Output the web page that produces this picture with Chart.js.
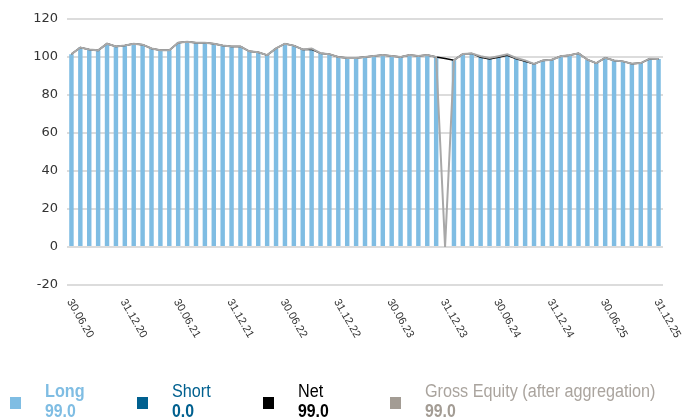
<!DOCTYPE html>
<html>
<head>
<meta charset="utf-8">
<script src="https://cdn.jsdelivr.net/npm/chart.js@4.4.1/dist/chart.umd.min.js"></script>
<style>
  html, body { margin: 0; padding: 0; background: #fff; overflow: hidden; }
  #wrap { position: relative; width: 685px; height: 418px; }
  #legend { position: absolute; left: 0; top: 380px; width: 685px; height: 38px; font-family: "Liberation Sans", sans-serif; }
  .item { position: absolute; top: 0; }
  .sq { position: absolute; top: 17px; width: 11px; height: 12px; }
  .name { position: absolute; left: 35px; top: 1px; font-size: 18px; white-space: nowrap; line-height: 20px; transform: scaleX(0.9); transform-origin: left top; }
  .val { position: absolute; left: 35px; top: 21px; font-size: 18px; font-weight: bold; line-height: 20px; transform: scaleX(0.88); transform-origin: left top; }
</style>
</head>
<body>
<div id="wrap">
  <canvas id="grafico" width="685" height="418"></canvas>
  <div id="legend">
    <div class="item" style="left:10px"><div class="sq" style="background:#7fbde3"></div><div class="name" style="color:#7fbde3;font-weight:bold">Long</div><div class="val" style="color:#7fbde3">99.0</div></div>
    <div class="item" style="left:137px"><div class="sq" style="background:#00608f"></div><div class="name" style="color:#00608f">Short</div><div class="val" style="color:#00608f">0.0</div></div>
    <div class="item" style="left:263px"><div class="sq" style="background:#000"></div><div class="name" style="color:#000">Net</div><div class="val" style="color:#000">99.0</div></div>
    <div class="item" style="left:390px"><div class="sq" style="background:#a39c94"></div><div class="name" style="color:#aaa49e">Gross Equity (after aggregation)</div><div class="val" style="color:#a39c94">99.0</div></div>
  </div>
</div>
<script>
var datas = [
    "30.06.20", "31.07.20", "31.08.20", "30.09.20", "31.10.20", "30.11.20", "31.12.20",
    "31.01.21", "28.02.21", "31.03.21", "30.04.21", "31.05.21", "30.06.21", "31.07.21", "31.08.21", "30.09.21", "31.10.21", "30.11.21", "31.12.21",
    "31.01.22", "28.02.22", "31.03.22", "30.04.22", "31.05.22", "30.06.22", "31.07.22", "31.08.22", "30.09.22", "31.10.22", "30.11.22", "31.12.22",
    "31.01.23", "28.02.23", "31.03.23", "30.04.23", "31.05.23", "30.06.23", "31.07.23", "31.08.23", "30.09.23", "31.10.23", "30.11.23", "31.12.23",
    "31.01.24", "29.02.24", "31.03.24", "30.04.24", "31.05.24", "30.06.24", "31.07.24", "31.08.24", "30.09.24", "31.10.24", "30.11.24", "31.12.24",
    "31.01.25", "28.02.25", "31.03.25", "30.04.25", "31.05.25", "30.06.25", "31.07.25", "31.08.25", "30.09.25", "31.10.25", "30.11.25", "31.12.25"
];

var rotulosX = ["30.06.20", "31.12.20", "30.06.21", "31.12.21", "30.06.22", "31.12.22", "30.06.23", "31.12.23", "30.06.24", "31.12.24", "30.06.25", "31.12.25"];

var longV = [
    101.5, 105, 104, 103.5, 107, 105.5, 106, 107, 106.5, 104.5, 103.5, 103.5,
    107.5, 108, 107.5, 107.5, 107, 106, 105.5, 105.5, 103, 102.5, 101, 104.5,
    107, 106, 104, 104.5, 102, 101.5, 100, 99.5, 99.5, 100, 100.5, 101,
    100.5, 100, 101, 100.5, 101, 100, 0, 98.3,
    101.6, 101.9, 100.4, 99.5, 100.4, 101.4, 99.5, 98.2,
    96.3, 98.2, 98.6, 100.4, 100.9, 101.9, 98.6, 96.8, 99.6, 98.2, 97.7, 96.5,
    96.8, 99.1, 99.0
];

var shortV = [
    0, 0, 0, 0, 0, 0, 0, 0, 0, 0, 0, 0,
    0, 0, 0, 0, 0, 0, 0, 0, 0, 0, 0, 0,
    0, 0, 0, -0.5, 0, 0, 0, 0, 0, 0, 0, 0,
    0, 0, 0, 0, 0, 0, 0, 0,
    0, 0, -0.5, -0.5, -0.5, -0.5, -0.5, -0.5,
    0, 0, 0, 0, 0, 0, 0, 0, 0, 0, 0, 0,
    0, 0, 0
];

var netV = [
    101.5, 105, 104, 103.5, 107, 105.5, 106, 107, 106.5, 104.5, 103.5, 103.5,
    107.5, 108, 107.5, 107.5, 107, 106, 105.5, 105.5, 103, 102.5, 101, 104.5,
    107, 106, 104, 104.0, 102, 101.5, 100, 99.5, 99.5, 100, 100.5, 101,
    100.5, 100, 101, 100.5, 101, 100, 99.2, 98.3,
    101.6, 101.9, 99.9, 99.0, 99.9, 100.9, 99.0, 97.7,
    96.3, 98.2, 98.6, 100.4, 100.9, 101.9, 98.6, 96.8, 99.6, 98.2, 97.7, 96.5,
    96.8, 99.1, 99.0
];

var grossV = [
    101.5, 105, 104, 103.5, 107, 105.5, 106, 107, 106.5, 104.5, 103.5, 103.5,
    107.5, 108, 107.5, 107.5, 107, 106, 105.5, 105.5, 103, 102.5, 101, 104.5,
    107, 106, 104, 104.5, 102, 101.5, 100, 99.5, 99.5, 100, 100.5, 101,
    100.5, 100, 101, 100.5, 101, 100, 0, 98.3,
    101.6, 101.9, 100.4, 99.5, 100.4, 101.4, 99.5, 98.2,
    96.3, 98.2, 98.6, 100.4, 100.9, 101.9, 98.6, 96.8, 99.6, 98.2, 97.7, 96.5,
    96.8, 99.1, 99.0
];

// rotulos do eixo x inclinados para baixo/direita
var rotulosPlugin = {
    id: "rotulos",
    afterDraw: function (chart) {
        var ctx = chart.ctx;
        var escalaX = chart.scales.x;
        ctx.save();
        ctx.font = "11px 'Liberation Sans', sans-serif";
        ctx.fillStyle = "#333";
        ctx.textAlign = "left";
        ctx.textBaseline = "middle";
        rotulosX.forEach(function (r) {
            var i = datas.indexOf(r);
            var x = escalaX.getPixelForValue(i);
            ctx.save();
            ctx.translate(x - 2, chart.chartArea.bottom + 15);
            ctx.rotate(60 * Math.PI / 180);
            ctx.fillText(r, 0, 0);
            ctx.restore();
        });
        ctx.restore();
    }
};

var ctx = document.getElementById("grafico").getContext("2d");
var grafico = new Chart(ctx, {
    type: "bar",
    data: {
        labels: datas,
        datasets: [
            { label: "Gross Equity (after aggregation)", type: "line", data: grossV, borderColor: "#a8a8a8", borderWidth: 2, pointRadius: 0, tension: 0, order: 0 },
            { label: "Net", type: "line", data: netV, borderColor: "#000", borderWidth: 1.5, pointRadius: 0, tension: 0, order: 1 },
            { label: "Short", data: shortV, backgroundColor: "#00608f", grouped: false, barPercentage: 0.5, categoryPercentage: 1, order: 2 },
            { label: "Long", data: longV, backgroundColor: "#7fbde3", grouped: false, barPercentage: 0.5, categoryPercentage: 1, order: 3 }
        ]
    },
    options: {
        responsive: false,
        animation: false,
        layout: { padding: { left: 0, top: 19, right: 22, bottom: 125 } },
        plugins: {
            legend: { display: false },
            tooltip: { enabled: false }
        },
        scales: {
            x: {
                grid: { display: false },
                border: { display: false },
                ticks: { display: false }
            },
            y: {
                min: -20,
                max: 120,
                ticks: { stepSize: 20, padding: 9, color: "#333", font: { family: "DejaVu Sans", size: 13 } },
                grid: { color: "#dcdcdc", lineWidth: 2, drawTicks: false },
                border: { display: false },
                afterFit: function (scale) { scale.width = 67; }
            }
        }
    },
    plugins: [rotulosPlugin]
});
</script>
</body>
</html>
